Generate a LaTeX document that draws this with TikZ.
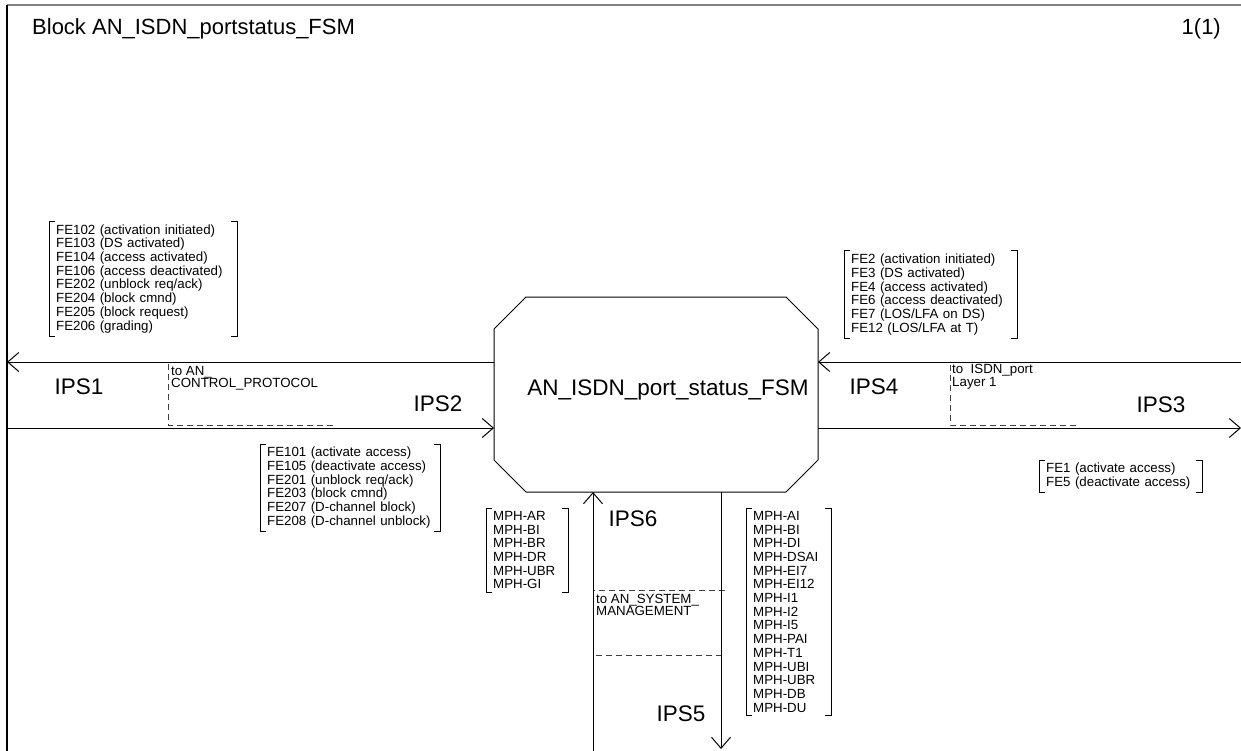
\documentclass[tikz,border=0pt]{standalone}
\usepackage{fontspec}
\setmainfont{Liberation Sans}
\usetikzlibrary{arrows.meta}
\tikzset{
  sigline/.style={black, line width=1pt, -{Straight Barb[length=11pt,width=19pt]}},
  dashbox/.style={black!75, line width=1pt, dash pattern=on 6pt off 4pt},
  siglist/.style={font=\fontsize{13.3}{13.7}\selectfont, align=left, inner xsep=7pt, inner ysep=3pt},
  tolabel/.style={font=\fontsize{13.3}{12.5}\selectfont, align=left, anchor=north west},
  biglabel/.style={font=\fontsize{22.5}{27}\selectfont, anchor=base},
  titlelabel/.style={font=\fontsize{22}{26}\selectfont},
  fsmbox/.style={minimum width=324pt, minimum height=195pt, inner sep=0pt, outer sep=0pt}
}
\newcommand{\sigbrackets}[1]{%
  \draw [black, line width=1pt] ([xshift=6pt]#1.north west) -- (#1.north west) -- (#1.south west) -- ([xshift=6pt]#1.south west);
  \draw [black, line width=1pt] ([xshift=-6pt]#1.north east) -- (#1.north east) -- (#1.south east) -- ([xshift=-6pt]#1.south east);}
\begin{document}
\begin{tikzpicture}[x=1pt,y=-1pt]
\tikzstyle{every node}+=[inner sep=0pt]
\useasboundingbox (0,0) rectangle (1241,751);
\draw [gray, line width=2pt] (7,5) -- (1241,5);
\draw [black, line width=1.5pt] (7,5) -- (7,751);
\node [titlelabel, anchor=base west] (blkname) at (32,35) {Block AN\_ISDN\_portstatus\_FSM};
\node [titlelabel, anchor=base east] (pagenum) at (1221,35) {1(1)};
\node [fsmbox] (fsm) at (656,394.5) {};
\draw [black, line width=1pt] ([xshift=32pt]fsm.north west) -- ([xshift=-32pt]fsm.north east)
  -- ([yshift=-32pt]fsm.north east) -- ([yshift=32pt]fsm.south east)
  -- ([xshift=-32pt]fsm.south east) -- ([xshift=32pt]fsm.south west)
  -- ([yshift=32pt]fsm.south west) -- ([yshift=-32pt]fsm.north west) -- cycle;
\node [biglabel] (fsmname) at (668,395) {AN\_ISDN\_port\_status\_FSM};
\coordinate (ips1end) at (7,362);
\coordinate (ips2start) at (7,428);
\coordinate (ips4start) at (1241,362);
\coordinate (ips3end) at (1241,428);
\coordinate (ips6start) at (593,751);
\coordinate (ips5end) at (721,749);
\draw [dashbox] (336,362) -- (168,362) -- (168,425) -- (336,425);
\draw [dashbox] (1077,362) -- (950,362) -- (950,425) -- (1077,425);
\draw [dashbox] (725,590) -- (593,590) -- (593,655) -- (721,655);
\node [tolabel] (toctrl) at (171,366) {to AN\_\\CONTROL\_PROTOCOL};
\node [tolabel] (toport) at (952,364.5) {to~~ISDN\_port\\Layer 1};
\node [tolabel] (tosys) at (596,594) {to AN\_SYSTEM\_\\MANAGEMENT};
\draw [sigline] (fsm.west |- ips1end) -- (ips1end);
\draw [sigline] (ips2start) -- (fsm.west |- ips2start);
\draw [sigline] (ips4start) -- (fsm.east |- ips4start);
\draw [sigline] (fsm.east |- ips3end) -- (ips3end);
\draw [sigline] (ips6start) -- (fsm.south -| ips6start);
\draw [sigline] (fsm.south -| ips5end) -- (ips5end);
\node [biglabel] (ips1) at (79,394) {IPS1};
\node [biglabel] (ips2) at (438,411) {IPS2};
\node [biglabel] (ips4) at (874,394.5) {IPS4};
\node [biglabel] (ips3) at (1161,412) {IPS3};
\node [biglabel] (ips6) at (633,526) {IPS6};
\node [biglabel] (ips5) at (681,721) {IPS5};
\node [siglist, text width=174pt, anchor=south west] (out1) at (49,336) {FE102 (activation initiated)\\FE103 (DS activated)\\FE104 (access activated)\\FE106 (access deactivated)\\FE202 (unblock req/ack)\\FE204 (block cmnd)\\FE205 (block request)\\FE206 (grading)};
\sigbrackets{out1}
\node [siglist, text width=166pt, anchor=north west] (in2) at (260,444) {FE101 (activate access)\\FE105 (deactivate access)\\FE201 (unblock req/ack)\\FE203 (block cmnd)\\FE207 (D-channel block)\\FE208 (D-channel unblock)};
\sigbrackets{in2}
\node [siglist, text width=159pt, anchor=north west] (in4) at (844,251) {FE2 (activation initiated)\\FE3 (DS activated)\\FE4 (access activated)\\FE6 (access deactivated)\\FE7 (LOS/LFA on DS)\\FE12 (LOS/LFA at T)};
\sigbrackets{in4}
\node [siglist, text width=149pt, anchor=north west] (out3) at (1039,460) {FE1 (activate access)\\FE5 (deactivate access)};
\sigbrackets{out3}
\node [siglist, text width=68pt, anchor=north west] (in6) at (486,508) {MPH-AR\\MPH-BI\\MPH-BR\\MPH-DR\\MPH-UBR\\MPH-GI};
\sigbrackets{in6}
\node [siglist, text width=71pt, anchor=north west] (out5) at (746,508) {MPH-AI\\MPH-BI\\MPH-DI\\MPH-DSAI\\MPH-EI7\\MPH-EI12\\MPH-I1\\MPH-I2\\MPH-I5\\MPH-PAI\\MPH-T1\\MPH-UBI\\MPH-UBR\\MPH-DB\\MPH-DU};
\sigbrackets{out5}
\end{tikzpicture}
\end{document}
